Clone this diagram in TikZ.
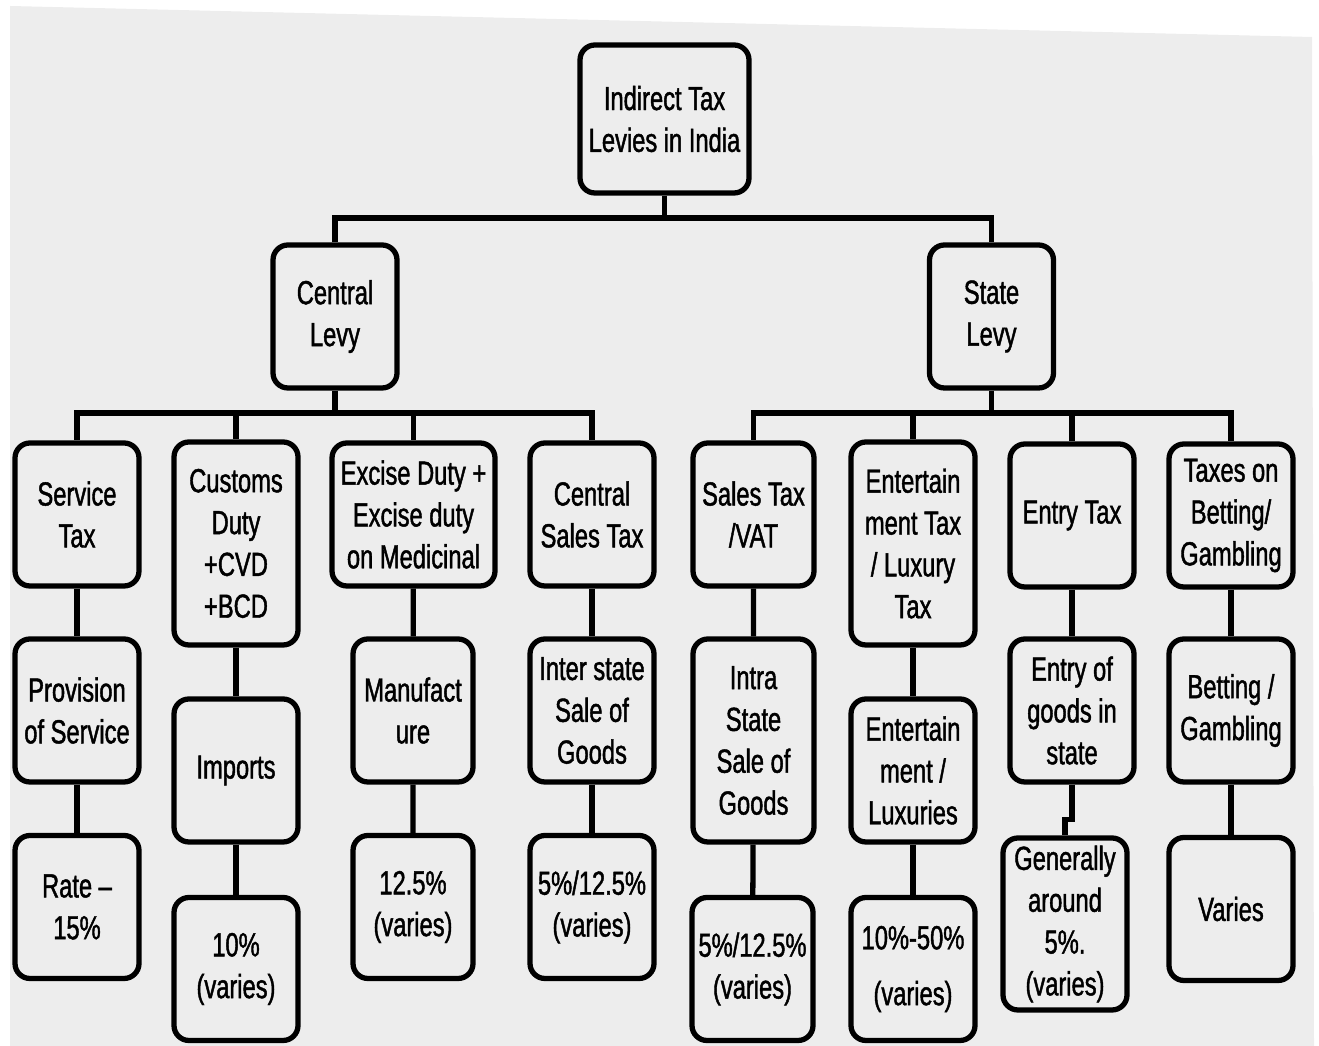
\documentclass[tikz,border=0pt]{standalone}
\usepackage{fontspec}
\setmainfont[FakeStretch=0.71, FakeBold=1.3]{Liberation Sans}
\usepackage{tikz}

\definecolor{paper}{HTML}{EDEDED}

\tikzset{
  box/.style={draw, line width=1.5pt, rounded corners=1.5mm, fill=paper,
    align=center, inner sep=1pt, minimum width=1.24cm, minimum height=1.43cm,
    font=\fontsize{9.5pt}{11.9pt}\selectfont},
  tallbox/.style={box, minimum height=2.03cm},
  link/.style={line width=1.5pt}
}

\begin{document}
\begin{tikzpicture}
\useasboundingbox (0,0) rectangle (13.19,-10.46);
\fill[paper] (0.1,-0.06) -- (13.12,-0.37) -- (13.14,-10.46) -- (0.1,-10.46) -- cycle;

\node[box, minimum width=1.69cm, minimum height=1.48cm] (root) at (6.645,-1.19) {Indirect Tax\\Levies in India};
\node[box] (cl) at (3.35,-3.165) {Central\\Levy};
\node[box] (sl) at (9.915,-3.165) {State\\Levy};

\node[box] (st) at (0.77,-5.145) {Service\\Tax};
\node[tallbox] (cd) at (2.36,-5.435) {Customs\\Duty\\+CVD\\+BCD};
\node[box, minimum width=1.63cm] (ed) at (4.135,-5.145) {Excise Duty +\\Excise duty\\on Medicinal};
\node[box] (cst) at (5.92,-5.145) {Central\\Sales Tax};
\node[box, minimum width=1.21cm] (vat) at (7.535,-5.145) {Sales Tax\\/VAT};
\node[tallbox] (ent) at (9.13,-5.435) {Entertain\\ment Tax\\/ Luxury\\Tax};
\node[box] (et) at (10.72,-5.155) {Entry Tax};
\node[box] (tb) at (12.31,-5.155) {Taxes on\\Betting/\\Gambling};

\node[box] (ps) at (0.77,-7.105) {Provision\\of Service};
\node[box] (imp) at (2.36,-7.705) {Imports};
\node[box, minimum width=1.2cm] (man) at (4.13,-7.105) {Manufact\\ure};
\node[box] (isg) at (5.92,-7.105) {Inter state\\Sale of\\Goods};
\node[tallbox, minimum width=1.21cm] (intra) at (7.535,-7.405) {Intra\\State\\Sale of\\Goods};
\node[box] (entl) at (9.13,-7.705) {Entertain\\ment /\\Luxuries};
\node[box] (eog) at (10.72,-7.105) {Entry of\\goods in\\state};
\node[box] (bg) at (12.31,-7.105) {Betting /\\Gambling};

\node[box] (r1) at (0.77,-9.07) {Rate --\\15\%};
\node[box] (r2) at (2.36,-9.69) {10\%\\(varies)};
\node[box, minimum width=1.2cm] (r3) at (4.13,-9.07) {12.5\%\\(varies)};
\node[box] (r4) at (5.92,-9.07) {5\%/12.5\%\\(varies)};
\node[box, minimum width=1.21cm] (r5) at (7.525,-9.69) {5\%/12.5\%\\(varies)};
\node[box] (r6) at (9.13,-9.69) {10\%-50\%\\[4pt](varies)};
\node[box, minimum height=1.72cm] (r7) at (10.65,-9.24) {Generally\\around\\5\%.\\(varies)};
\node[box] (r8) at (12.31,-9.09) {Varies};

\coordinate (j0) at (6.645,-2.18);
\coordinate (jc) at (3.35,-4.13);
\coordinate (js) at (9.915,-4.13);

\draw[link] (root.south) -- (j0);
\draw[link] (cl.north) |- (j0) -| (sl.north);
\draw[link] (cl.south) -- (jc);
\draw[link] (sl.south) -- (js);
\foreach \c in {st,cd,ed,cst}
  \draw[link] (jc) -| (\c.north);
\foreach \c in {vat,ent,et,tb}
  \draw[link] (js) -| (\c.north);

\foreach \a/\b/\c in {st/ps/r1, cd/imp/r2, ed/man/r3, cst/isg/r4, vat/intra/r5, ent/entl/r6, tb/bg/r8}
  \draw[link] (\a) -- (\b) -- (\c);
\draw[link] (et) -- (eog);
\draw[link] (eog.south) -- ++(0,-0.35) -| (r7.north);
\end{tikzpicture}
\end{document}
